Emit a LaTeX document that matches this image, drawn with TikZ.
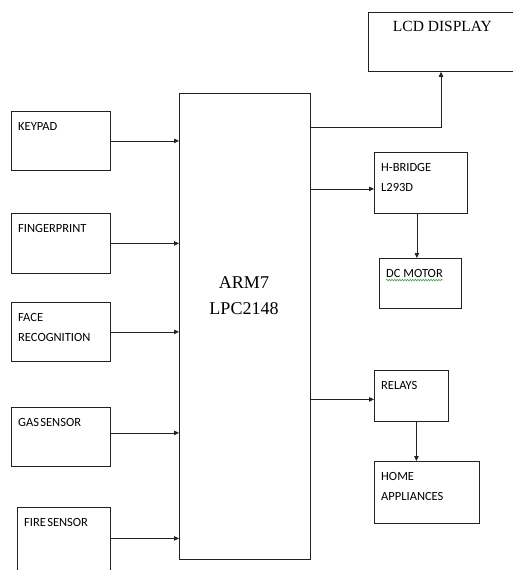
\documentclass[tikz,border=0pt]{standalone}
\usepackage{fontspec}
\setmainfont{Liberation Serif}
\newfontfamily\calibri{Carlito}
\usepackage{tikz}
\usetikzlibrary{arrows.meta, positioning, decorations.pathmorphing}
\definecolor{boxline}{HTML}{222222}
\definecolor{spellgreen}{HTML}{3a9a3a}

\tikzset{
	blk/.style={draw=boxline, line width=0.8pt, anchor=north west, inner sep=0pt},
	txt/.style={anchor=north west, inner sep=0pt, xshift=7pt, yshift=-11pt, align=left,
		font=\calibri\fontsize{12.5}{20}\selectfont},
	arr/.style={draw=boxline, line width=0.8pt, -{Triangle[length=5pt, width=4.5pt]}}
}

\begin{document}
\begin{tikzpicture}[x=1pt, y=-1pt]
				\useasboundingbox (0,0) rectangle (513,570);
				\clip (0,0) rectangle (513,570);
				% controller
				\node[blk, minimum width=131pt, minimum height=466pt] (arm) at (179,93) {};
				\node[align=center, font=\fontsize{18}{26}\selectfont] (armtxt) at (244,296) {ARM7\\LPC2148};
				% inputs
				\node[blk, minimum width=99pt, minimum height=59pt, label={[txt]north west:KEYPAD}] (keypad) at (11,111) {};
				\node[blk, minimum width=99pt, minimum height=60pt, label={[txt]north west:FINGERPRINT}] (finger) at (11,213) {};
				\node[blk, minimum width=99pt, minimum height=59pt, label={[txt]north west:FACE\\RECOGNITION}] (face) at (11,302) {};
				\node[blk, minimum width=99pt, minimum height=59pt, label={[txt]north west:GAS\kern-1.5pt\ SENSOR}] (gas) at (11,407) {};
				\node[blk, minimum width=93pt, minimum height=70pt, label={[txt]north west:FIRE\kern-1.5pt\ SENSOR}] (fire) at (17,507) {};
				% outputs
				\node[blk, minimum width=148pt, minimum height=59pt,
				label={[anchor=north, inner sep=0pt, yshift=-9pt, font=\fontsize{15.5}{18}\selectfont]north:LCD DISPLAY}] (lcd) at (368,12) {};
				\node[blk, minimum width=93pt, minimum height=61pt, label={[txt]north west:H-BRIDGE\\L293D}] (hbridge) at (374,152) {};
				\node[blk, minimum width=82pt, minimum height=50pt, label={[txt, name=dctxt]north west:DC MOTOR}] (dcmotor) at (379,258) {};
				\node[blk, minimum width=74pt, minimum height=51pt, label={[txt]north west:RELAYS}] (relays) at (374,370) {};
				\node[blk, minimum width=105pt, minimum height=62pt, label={[txt]north west:HOME\\APPLIANCES}] (home) at (374,461) {};
				\draw[spellgreen, line width=0.5pt, decorate, decoration={snake, amplitude=0.9pt, segment length=2.6pt}]
				([yshift=-2.5pt]dctxt.south west) -- ([yshift=-2.5pt]dctxt.south east);
				% connectors
				\foreach \src in {keypad, finger, face}
					\draw[arr] (\src.east) -- (\src.east -| arm.west);
				\draw[arr] ([yshift=4pt]gas.east) -- ([yshift=4pt]gas.east -| arm.west);
				\draw[arr] ([yshift=4pt]fire.east) -- ([yshift=4pt]fire.east -| arm.west);
				\coordinate (lcdturn) at (441,127);
				\draw[arr] (arm.east |- lcdturn) -- (lcdturn) -- (lcdturn |- lcd.south);
				\draw[arr] ([yshift=-6pt]hbridge.west -| arm.east) -- ([yshift=-6pt]hbridge.west);
				\draw[arr] ([yshift=-3.5pt]relays.west -| arm.east) -- ([yshift=-3.5pt]relays.west);
				\draw[arr] ([xshift=-4pt]hbridge.south) -- ([xshift=-4pt]hbridge.south |- dcmotor.north);
				\draw[arr] ([xshift=5pt]relays.south) -- ([xshift=5pt]relays.south |- home.north);
			\end{tikzpicture}
\end{document}
